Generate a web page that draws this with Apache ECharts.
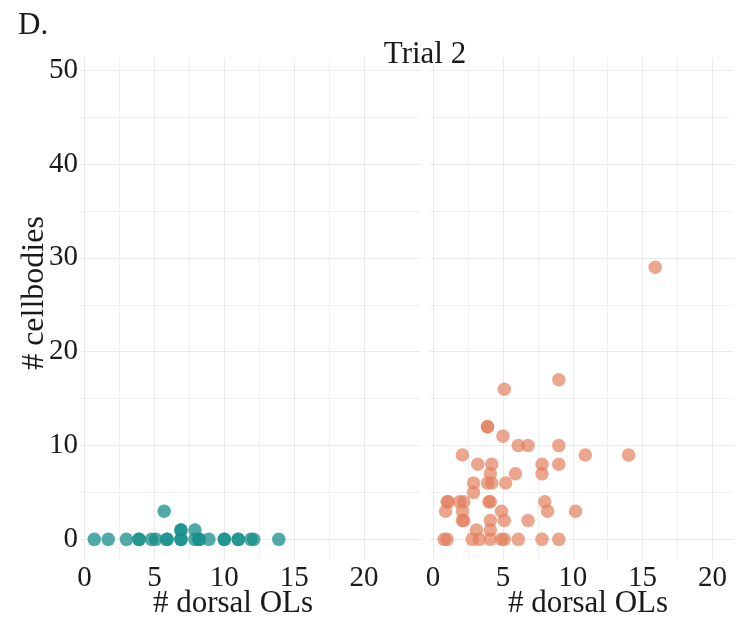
<!DOCTYPE html>
<html>
<head>
<meta charset="utf-8">
<script src="https://cdn.jsdelivr.net/npm/echarts@6/dist/echarts.min.js"></script>
<style>
html,body{margin:0;padding:0;background:#fff;}
#chart{width:742px;height:618px;}
</style>
</head>
<body>
<div id="chart"></div>
<script>
// Data
const panelLabel = 'D.';
const chartTitle = 'Trial 2';
const xTitle = '# dorsal OLs';
const yTitle = '# cellbodies';

const xTickLabels = [0, 5, 10, 15, 20];
const xGridValues = [0, 2.5, 5, 7.5, 10, 12.5, 15, 17.5, 20];
const yTickLabels = [0, 10, 20, 30, 40, 50];
const yGridValues = [0, 5, 10, 15, 20, 25, 30, 35, 40, 45, 50];

// Left panel (teal): [# dorsal OLs, # cellbodies]
const tealPoints = [
  [0.7, 0], [1.7, 0], [3.0, 0], [3.9, 0], [3.9, 0], [4.8, 0], [5.1, 0],
  [5.9, 0], [5.9, 0], [6.9, 0], [6.9, 0], [7.9, 0], [8.2, 0], [8.2, 0],
  [8.9, 0], [10.0, 0], [10.0, 0], [11.0, 0], [11.0, 0], [11.9, 0], [12.1, 0],
  [13.9, 0],
  [6.9, 1], [6.9, 1], [7.9, 1],
  [5.7, 3]
];

// Right panel (salmon)
const salmonPoints = [
  [15.9, 29], [9.0, 17], [5.1, 16], [3.9, 12], [3.9, 12], [5.0, 11],
  [6.1, 10], [6.8, 10], [9.0, 10],
  [2.1, 9], [10.9, 9], [14.0, 9],
  [3.2, 8], [4.2, 8], [7.8, 8], [9.0, 8],
  [4.1, 7], [5.9, 7], [7.8, 7],
  [2.9, 6], [3.9, 6], [4.2, 6], [5.2, 6],
  [2.9, 5],
  [1.0, 4], [1.1, 4], [1.9, 4], [2.2, 4], [4.0, 4], [4.1, 4], [8.0, 4],
  [0.9, 3], [2.1, 3], [4.9, 3], [8.2, 3], [10.2, 3],
  [2.1, 2], [2.2, 2], [4.1, 2], [5.1, 2], [6.8, 2],
  [3.1, 1], [4.1, 1],
  [0.8, 0], [1.0, 0], [2.8, 0], [3.3, 0], [4.1, 0], [4.9, 0], [5.1, 0],
  [6.1, 0], [7.8, 0], [9.0, 0]
];

const FONT = "'Liberation Serif', 'DejaVu Serif', serif";
const TEXT = '#1a1a1a';
const GRID_COLORS = ['#EAEAEA', '#F1F1F1'];

function xAxisFor(idx, min, max) {
  return {
    type: 'value', gridIndex: idx, min: min, max: max,
    axisLine: {show: false},
    axisTick: {show: false, customValues: xGridValues},
    axisLabel: {customValues: xTickLabels, fontFamily: FONT, fontSize: 29, color: TEXT, margin: 4},
    splitLine: {show: true, lineStyle: {color: GRID_COLORS, width: 1}}
  };
}
function yAxisFor(idx, showLabels) {
  return {
    type: 'value', gridIndex: idx, min: -2.2, max: 51.3,
    axisLine: {show: false},
    axisTick: {show: false, customValues: yGridValues},
    axisLabel: {show: showLabels, customValues: yTickLabels, fontFamily: FONT, fontSize: 29, color: TEXT, margin: 3},
    splitLine: {show: true, lineStyle: {color: GRID_COLORS, width: 1}}
  };
}

const chart = echarts.init(document.getElementById('chart'), null, {renderer: 'canvas'});
chart.setOption({
  backgroundColor: '#ffffff',
  animation: false,
  grid: [
    {left: 81, top: 58, width: 339, height: 502},
    {left: 429, top: 58, width: 304, height: 502}
  ],
  xAxis: [xAxisFor(0, -0.25, 24.0), xAxisFor(1, -0.29, 21.47)],
  yAxis: [yAxisFor(0, true), yAxisFor(1, false)],
  series: [
    {
      type: 'scatter', xAxisIndex: 0, yAxisIndex: 0,
      data: tealPoints, symbolSize: 13.5,
      itemStyle: {color: '#168F8B', opacity: 0.75}
    },
    {
      type: 'scatter', xAxisIndex: 1, yAxisIndex: 1,
      data: salmonPoints, symbolSize: 13.5,
      itemStyle: {color: '#E2805C', opacity: 0.7}
    }
  ],
  graphic: [
    {type: 'text', x: 18, y: 26, style: {text: panelLabel, font: '31px ' + FONT, fill: TEXT, verticalAlign: 'middle'}},
    {type: 'text', x: 425, y: 55, style: {text: chartTitle, font: '31px ' + FONT, fill: TEXT, align: 'center', verticalAlign: 'middle'}},
    {type: 'text', x: 35, y: 293, rotation: Math.PI / 2, style: {text: yTitle, font: '32px ' + FONT, fill: TEXT, align: 'center', verticalAlign: 'middle'}},
    {type: 'text', x: 233, y: 604, style: {text: xTitle, font: '31px ' + FONT, fill: TEXT, align: 'center', verticalAlign: 'middle'}},
    {type: 'text', x: 588, y: 604, style: {text: xTitle, font: '31px ' + FONT, fill: TEXT, align: 'center', verticalAlign: 'middle'}}
  ]
});
</script>
</body>
</html>
